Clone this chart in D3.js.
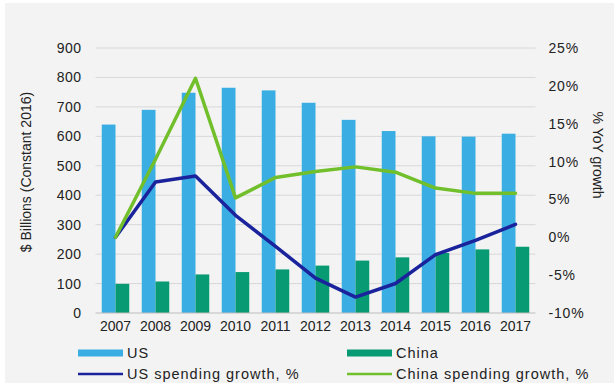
<!DOCTYPE html>
<html>
<head>
<meta charset="utf-8">
<script src="https://cdn.jsdelivr.net/npm/d3@7"></script>
<style>
  html, body { margin: 0; padding: 0; background: #ffffff; }
  svg { display: block; }
  text { font-family: "Liberation Sans", Arial, sans-serif; fill: #222; }
</style>
</head>
<body>
<svg id="chart" width="614" height="383"></svg>
<script>
// Defence spending, US vs China, 2007–2017
const years = ["2007","2008","2009","2010","2011","2012","2013","2014","2015","2016","2017"];
const usSpending    = [640, 690, 748, 765, 756, 714, 656, 618, 600, 599, 609];   // $ billions
const chinaSpending = [99, 107, 131, 139, 148, 161, 178, 189, 204, 216, 225];    // $ billions
const usGrowth      = [0, 7.3, 8.1, 2.9, -1.2, -5.4, -7.9, -6.1, -2.3, -0.4, 1.7];  // % YoY
const chinaGrowth   = [0, 10.3, 21.0, 5.2, 7.9, 8.7, 9.3, 8.6, 6.5, 5.8, 5.8];     // % YoY
const leftTicks  = [0, 100, 200, 300, 400, 500, 600, 700, 800, 900];
const rightTicks = [-10, -5, 0, 5, 10, 15, 20, 25];
const barSeries = ["US", "China"];

const colors = {
  US: "#3aaee2",
  China: "#079a73",
  usLine: "#1a239c",
  chinaLine: "#72bf2c",
  grid: "#d8d8d8",
  panel: "#f3f3f3"
};

const svg = d3.select("#chart");
const W = 614, H = 383;
const m = { left: 95.5, right: W - 535.5, top: 48, bottom: H - 313 };

// background panel
svg.append("rect")
  .attr("x", 5).attr("y", 3)
  .attr("width", W - 5).attr("height", H - 3)
  .attr("fill", colors.panel);

const x = d3.scaleBand().domain(years).range([m.left, W - m.right]).padding(0);
const xSub = d3.scaleBand().domain(barSeries).range([0, x.bandwidth()])
  .paddingInner(0).paddingOuter(0.4545);
const yL = d3.scaleLinear().domain([0, 900]).range([H - m.bottom, m.top]);
const yR = d3.scaleLinear().domain([-10, 25]).range([H - m.bottom, m.top]);

// gridlines
svg.append("g")
  .selectAll("line")
  .data(leftTicks.filter(d => d > 0))
  .join("line")
  .attr("x1", m.left).attr("x2", W - m.right)
  .attr("y1", d => yL(d)).attr("y2", d => yL(d))
  .attr("stroke", colors.grid).attr("stroke-width", 1);

// bars
const barData = years.map((yr, i) => ({ year: yr, US: usSpending[i], China: chinaSpending[i] }));
svg.append("g")
  .selectAll("g")
  .data(barData)
  .join("g")
  .attr("transform", d => `translate(${x(d.year)},0)`)
  .selectAll("rect")
  .data(d => barSeries.map(s => ({ s, v: d[s] })))
  .join("rect")
  .attr("x", d => xSub(d.s))
  .attr("width", xSub.bandwidth())
  .attr("y", d => yL(d.v))
  .attr("height", d => yL(0) - yL(d.v))
  .attr("fill", d => colors[d.s]);

// baseline
svg.append("line")
  .attr("x1", m.left).attr("x2", W - m.right)
  .attr("y1", yL(0)).attr("y2", yL(0))
  .attr("stroke", "#bdbdbd").attr("stroke-width", 1);

// growth lines
const cx = d => x(d) + x.bandwidth() / 2;
const line = d3.line().x(d => cx(d.year)).y(d => yR(d.v));
[[usGrowth, colors.usLine], [chinaGrowth, colors.chinaLine]].forEach(([vals, col]) => {
  svg.append("path")
    .datum(years.map((yr, i) => ({ year: yr, v: vals[i] })))
    .attr("d", line)
    .attr("fill", "none")
    .attr("stroke", col)
    .attr("stroke-width", 3.5)
    .attr("stroke-linejoin", "round")
    .attr("stroke-linecap", "round");
});

const styleTicks = sel => sel.selectAll("text")
  .style("font-size", "14px").attr("fill", "#222")
  .style("font-family", "'Liberation Sans', Arial, sans-serif");

// left axis
const axL = svg.append("g")
  .attr("transform", `translate(${m.left},0)`)
  .call(d3.axisLeft(yL).tickValues(leftTicks).tickSize(0).tickPadding(14));
axL.select(".domain").remove();
styleTicks(axL);
axL.selectAll("text").style("letter-spacing", "0.5px");

// right axis
const axR = svg.append("g")
  .attr("transform", `translate(${W - m.right},0)`)
  .call(d3.axisRight(yR).tickValues(rightTicks).tickSize(0).tickPadding(13)
    .tickFormat(d => d + "%"));
axR.select(".domain").remove();
styleTicks(axR);
axR.selectAll("text").style("letter-spacing", "0.8px");

// bottom axis
const axB = svg.append("g")
  .attr("transform", `translate(0,${H - m.bottom})`)
  .call(d3.axisBottom(x).tickSize(0).tickPadding(8));
axB.select(".domain").remove();
styleTicks(axB);

// axis titles
svg.append("text")
  .attr("transform", "translate(31,172) rotate(-90)")
  .attr("text-anchor", "middle")
  .style("font-size", "14px")
  .text("$ Billions (Constant 2016)");

svg.append("text")
  .attr("transform", "translate(593,155) rotate(90)")
  .attr("text-anchor", "middle")
  .style("font-size", "14px")
  .text("% YoY growth");

// legend
const legendItems = [
  { label: "US", color: colors.US, type: "bar", col: 0, row: 0 },
  { label: "China", color: colors.China, type: "bar", col: 1, row: 0 },
  { label: "US spending growth, %", color: colors.usLine, type: "line", col: 0, row: 1 },
  { label: "China spending growth, %", color: colors.chinaLine, type: "line", col: 1, row: 1 }
];
const colX = [78, 347], rowY = [353, 374];
const lg = svg.append("g")
  .selectAll("g")
  .data(legendItems)
  .join("g")
  .attr("transform", d => `translate(${colX[d.col]},${rowY[d.row]})`);
lg.filter(d => d.type === "bar").append("rect")
  .attr("x", 0).attr("y", -3.5).attr("width", 45).attr("height", 7)
  .attr("fill", d => d.color);
lg.filter(d => d.type === "line").append("line")
  .attr("x1", 0).attr("x2", 45).attr("y1", 0).attr("y2", 0)
  .attr("stroke", d => d.color).attr("stroke-width", 2.5);
lg.append("text")
  .attr("x", 49).attr("dy", "0.35em")
  .style("font-size", "14.5px")
  .style("letter-spacing", "1px")
  .text(d => d.label);
</script>
</body>
</html>
